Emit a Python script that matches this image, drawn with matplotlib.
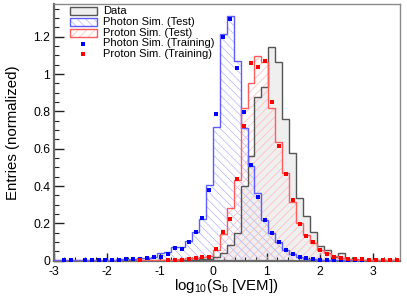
import numpy as np
import matplotlib
matplotlib.use("Agg")
import matplotlib.pyplot as plt
from matplotlib.patches import Rectangle
from matplotlib.ticker import MultipleLocator, FixedLocator, FixedFormatter

plt.rcParams['font.family'] = ['Liberation Sans', 'DejaVu Sans']
plt.rcParams['mathtext.fontset'] = 'custom'
plt.rcParams['mathtext.rm'] = 'Liberation Sans'
plt.rcParams['mathtext.it'] = 'Liberation Sans:italic'
plt.rcParams['axes.unicode_minus'] = False
plt.rcParams['hatch.linewidth'] = 0.5

# ---------------- data ----------------
x_min, x_max, n_bins = -3.0, 3.5, 50

data_vals = [0, 0, 0, 0, 0, 0, 0, 0, 0, 0,
             0, 0, 0, 0, 0, 0.003, 0.003, 0.002, 0.003, 0.004,
             0.005, 0.007, 0.010, 0.018, 0.043, 0.084, 0.147, 0.400, 0.561, 0.878,
             0.930, 1.143, 1.066, 0.757, 0.578, 0.334, 0.240, 0.152, 0.080, 0.057,
             0.018, 0.040, 0.010, 0.008, 0.006, 0.005, 0.004, 0.004, 0.003, 0.003]

photon_test = [0.003, 0.004, 0.004, 0.004, 0.005, 0.005, 0.005, 0.006, 0.006, 0.007,
               0.008, 0.010, 0.012, 0.016, 0.022, 0.040, 0.045, 0.072, 0.072, 0.107,
               0.152, 0.223, 0.405, 0.718, 1.214, 1.311, 1.071, 0.709, 0.509, 0.361,
               0.218, 0.147, 0.100, 0.057, 0.034, 0.018, 0.011, 0.007, 0.005, 0.004,
               0.003, 0.002, 0.002, 0.001, 0.001, 0.001, 0.001, 0, 0, 0]

proton_test = [0, 0, 0, 0, 0, 0, 0.001, 0.001, 0.001, 0.001,
               0.001, 0.001, 0.003, 0.002, 0.002, 0.002, 0.004, 0.006, 0.008, 0.012,
               0.015, 0.018, 0.025, 0.057, 0.145, 0.281, 0.432, 0.816, 0.950, 1.098,
               1.066, 0.816, 0.637, 0.468, 0.316, 0.204, 0.138, 0.097, 0.057, 0.040,
               0.025, 0.015, 0.010, 0.008, 0.006, 0.005, 0.004, 0.004, 0.003, 0.003]

photon_train = [0, 0.004, 0.004, 0, 0.004, 0.006, 0.004, 0.006, 0.006, 0.006,
                0.007, 0.008, 0.009, 0.012, 0.018, 0.022, 0.034, 0.068, 0.062, 0.100,
                0.153, 0.230, 0.378, 0.786, 1.197, 1.293, 1.030, 0.796, 0.513, 0.343,
                0.218, 0.147, 0.099, 0.058, 0.035, 0.019, 0.012, 0.008, 0.006, 0.005,
                0.004, 0.003, 0.002, 0.002, 0.001, 0.001, 0.001, 0.001, 0, 0]

proton_train = [0, 0, 0, 0, 0, 0, 0, 0, 0, 0,
                0, 0, 0.002, 0, 0, 0, 0.003, 0.004, 0.006, 0.008,
                0.013, 0.020, 0.022, 0.060, 0.155, 0.222, 0.436, 0.721, 1.057, 1.040,
                1.071, 0.852, 0.614, 0.464, 0.325, 0.197, 0.134, 0.102, 0.057, 0.038,
                0.021, 0.015, 0.010, 0.008, 0.007, 0.006, 0.005, 0.005, 0.004, 0.004]

legend_labels = ["Data", "Photon Sim. (Test)", "Proton Sim. (Test)",
                 "Photon Sim. (Training)", "Proton Sim. (Training)"]
x_ticks = [-3, -2, -1, 0, 1, 2, 3]
y_ticks = [0, 0.2, 0.4, 0.6, 0.8, 1.0, 1.2]
y_tick_labels = ["0", "0.2", "0.4", "0.6", "0.8", "1", "1.2"]

# ---------------- figure ----------------
W, H = 407, 300
fig = plt.figure(figsize=(W / 100, H / 100), dpi=100)
L, R, T, B = 53.5, 400.0, 4.0, 260.7
ax = fig.add_axes([L / W, (H - B) / H, (R - L) / W, (B - T) / H])

edges = np.linspace(x_min, x_max, n_bins + 1)
centers = 0.5 * (edges[:-1] + edges[1:])

d = np.array(data_vals)
pt = np.array(photon_test)
prt = np.array(proton_test)
ptr = np.array(photon_train)
prtr = np.array(proton_train)

blue_line = '#5c5cff'
blue_hatch = '#b4b4ff'
red_line = '#ff5c5c'
red_hatch = '#ffb8b8'
data_fill = '#efefef'
data_line = '#555555'
marker_size = 2.7

ax.stairs(d, edges, fill=True, facecolor=data_fill, edgecolor='none', lw=0, zorder=1)
ax.stairs(pt, edges, fill=True, facecolor='none', edgecolor=blue_hatch, hatch='\\\\\\\\', lw=0, zorder=2)
ax.stairs(prt, edges, fill=True, facecolor='none', edgecolor=red_hatch, hatch='////', lw=0, zorder=2)
ax.stairs(d, edges, color=data_line, lw=1.0, zorder=3)
ax.stairs(pt, edges, color=blue_line, lw=1.0, zorder=4)
ax.stairs(prt, edges, color=red_line, lw=1.0, zorder=4)

m = ptr > 0
ax.plot(centers[m], ptr[m], 's', ms=marker_size, mew=0, color='#0000ff', zorder=5)
m = prtr > 0
ax.plot(centers[m], prtr[m], 's', ms=marker_size, mew=0, color='#ff0000', zorder=5)

ax.set_xlim(x_min, x_max)
ax.set_ylim(0, 1.375)

for s in ['left', 'bottom']:
    ax.spines[s].set_color('#6a6a6a')
    ax.spines[s].set_linewidth(1.6)
for s in ['top', 'right']:
    ax.spines[s].set_color('#8a8a8a')
    ax.spines[s].set_linewidth(1.0)

ax.xaxis.set_major_locator(FixedLocator(x_ticks))
ax.xaxis.set_minor_locator(MultipleLocator(0.2))
ax.yaxis.set_major_locator(FixedLocator(y_ticks))
ax.yaxis.set_major_formatter(FixedFormatter(y_tick_labels))
ax.yaxis.set_minor_locator(MultipleLocator(0.05))
ax.tick_params(axis='both', which='both', direction='in', top=False, right=False,
               colors='#222222', labelcolor='black', labelsize=8.8)
ax.tick_params(axis='x', which='major', length=5.5, width=1.0, pad=3.5)
ax.tick_params(axis='x', which='minor', length=2.8, width=0.8)
ax.tick_params(axis='y', which='major', length=7.5, width=1.0, pad=2.5)
ax.tick_params(axis='y', which='minor', length=3.8, width=0.8)

fig.text(226 / W, 1 - 290 / H, r'log$_{\mathregular{10}}$(S$_{\mathregular{b}}$ [VEM])',
         fontsize=10.8, ha='center', va='baseline')
fig.text(13 / W, 1 - 133 / H, 'Entries (normalized)', fontsize=10.8,
         rotation=90, ha='center', va='center')

# ---------------- legend (manual) ----------------
ftr = fig.transFigure
def px(x, y):
    return (x / W, 1 - y / H)

rows = [11.0, 22.0, 33.0, 43.5, 54.0]
box_x0, box_x1, box_h = 70.0, 96.7, 7.6
styles = [(data_line, data_fill, None),
          (blue_line, 'none', '\\\\\\\\'),
          (red_line, 'none', '////')]
hatch_cols = [None, blue_hatch, red_hatch]
for i, (ec, fc, hatch) in enumerate(styles):
    y = rows[i]
    x0, y0 = px(box_x0, y + box_h / 2)
    w = (box_x1 - box_x0) / W
    h = box_h / H
    if hatch is not None:
        fig.patches.append(Rectangle((x0, y0), w, h, transform=ftr, facecolor='none',
                                     edgecolor=hatch_cols[i], hatch=hatch, lw=0))
    else:
        fig.patches.append(Rectangle((x0, y0), w, h, transform=ftr, facecolor=fc,
                                     edgecolor='none', lw=0))
    fig.patches.append(Rectangle((x0, y0), w, h, transform=ftr, facecolor='none',
                                 edgecolor=ec, lw=1.0))
for i, c in [(3, '#0000ff'), (4, '#ff0000')]:
    fig.lines.append(plt.Line2D([83.3 / W], [1 - rows[i] / H], transform=ftr,
                                marker='s', ms=marker_size, mew=0, color=c, ls='none'))
for i, lab in enumerate(legend_labels):
    fig.text(102.7 / W, 1 - rows[i] / H, lab, fontsize=8.0, ha='left', va='center')

fig.savefig('out.png', dpi=100)
